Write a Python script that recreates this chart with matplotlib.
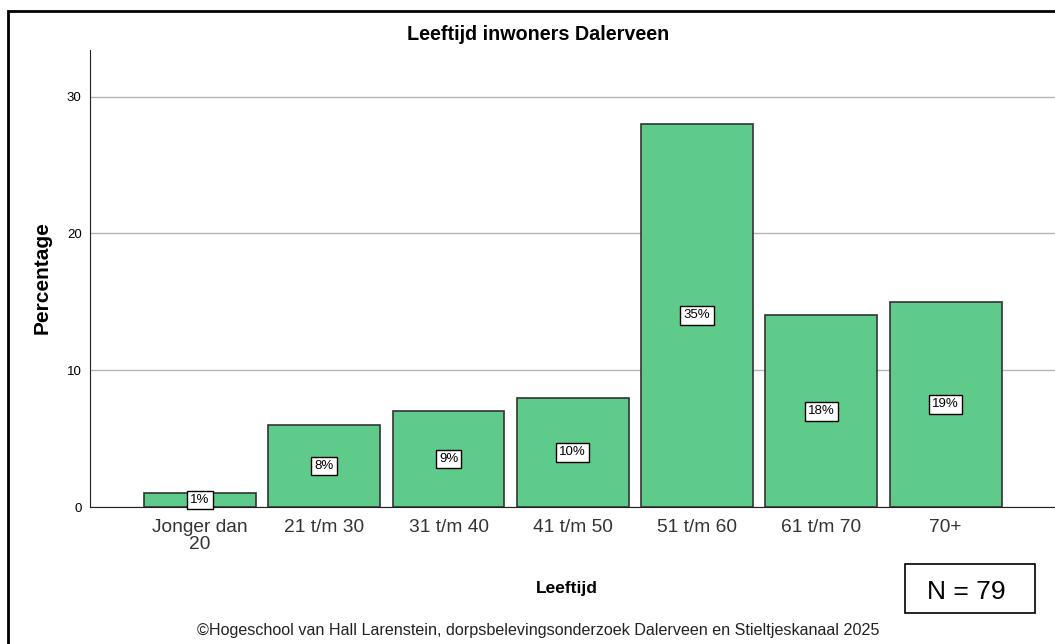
import matplotlib
matplotlib.use("Agg")
import matplotlib.pyplot as plt
from matplotlib.patches import Rectangle

categories = ["Jonger dan\n20", "21 t/m 30", "31 t/m 40", "41 t/m 50", "51 t/m 60", "61 t/m 70", "70+"]
counts = [1, 6, 7, 8, 28, 14, 15]
pct_labels = ["1%", "8%", "9%", "10%", "35%", "18%", "19%"]
yticks = [0, 10, 20, 30]

plt.rcParams['font.family'] = ['Liberation Sans', 'DejaVu Sans']

W, H = 1055, 644
fig = plt.figure(figsize=(W / 100, H / 100), dpi=100)

# axes placement in pixels
ax_l, ax_r, ax_t, ax_b = 90, 1055, 50, 507
ax = fig.add_axes([ax_l / W, 1 - ax_b / H, (ax_r - ax_l) / W, (ax_b - ax_t) / H])

x = list(range(len(categories)))
ax.bar(x, counts, width=0.9, color="#5ECB8A", edgecolor="#333333", linewidth=1.2, zorder=3)
ax.set_xlim(-0.885, 6.88)
ax.set_ylim(0, 33.4)
ax.set_yticks(yticks)
ax.set_xticks(x)
ax.set_xticklabels(categories, fontsize=13.8, color="#333333", linespacing=0.95)
ax.tick_params(axis='y', length=0, labelsize=9.5, pad=6)
ax.tick_params(axis='x', length=0, pad=9)
ax.yaxis.grid(True, color="#b4b4b4", linewidth=1, zorder=0)
ax.set_axisbelow(True)
for s in ["top", "right"]:
    ax.spines[s].set_visible(False)
ax.spines["left"].set_color("#222222")
ax.spines["bottom"].set_color("#222222")

for xi, c, lab in zip(x, counts, pct_labels):
    ax.text(xi, c / 2, lab, ha="center", va="center", fontsize=9.5, color="black", zorder=5,
            bbox=dict(boxstyle="square,pad=0.25", facecolor="white", edgecolor="black", linewidth=1))

fig.text(538 / W, 1 - 34 / H, "Leeftijd inwoners Dalerveen", ha="center", va="center",
         fontsize=14.2, fontweight="bold")
fig.text(42 / W, 1 - 278 / H, "Percentage", ha="center", va="center", rotation=90,
         fontsize=15, fontweight="bold")
fig.text(567 / W, 1 - 588 / H, "Leeftijd", ha="center", va="center", fontsize=12.5, fontweight="bold")
fig.text(538 / W, 1 - 630 / H,
         "\u00a9Hogeschool van Hall Larenstein, dorpsbelevingsonderzoek Dalerveen en Stieltjeskanaal 2025",
         ha="center", va="center", fontsize=11.6, color="#222222")

# N box
fig.patches.append(Rectangle((905 / W, 1 - 613 / H), 130 / W, 49 / H, transform=fig.transFigure,
                             facecolor="white", edgecolor="black", linewidth=1.2))
fig.text(966 / W, 1 - 592 / H, "N = 79", ha="center", va="center", fontsize=19)

# outer frame (left and top edges visible)
fig.patches.append(Rectangle((8 / W, -0.05), 1.2, 1 - 11 / H + 0.05, transform=fig.transFigure,
                             facecolor="none", edgecolor="black", linewidth=2))

fig.savefig("out.png", dpi=100)
